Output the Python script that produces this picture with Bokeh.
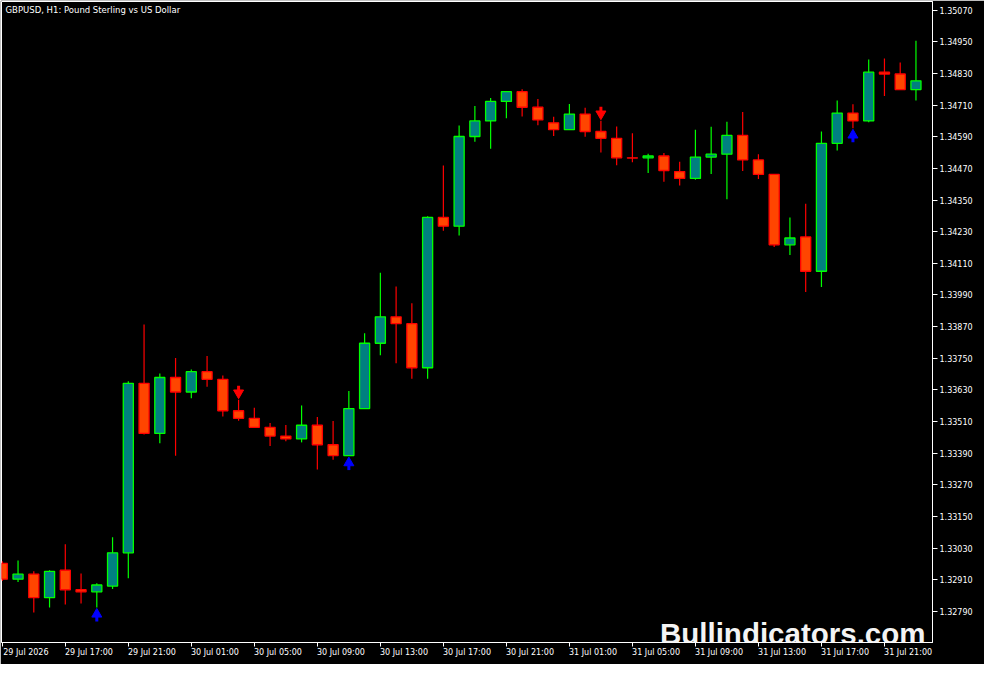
from bokeh.plotting import figure
from bokeh.models import Range1d, FixedTicker, PrintfTickFormatter, Label, ColumnDataSource, LinearAxis
from bokeh.embed import file_html
from bokeh.resources import INLINE

# ---------------- data ----------------
chart_title = "GBPUSD, H1:  Pound Sterling vs US Dollar"
watermark = "Bullindicators.com"

opens = [1.32972, 1.32912, 1.32931, 1.32842, 1.32946, 1.32872, 1.32864, 1.32886, 1.33012, 1.33655,
         1.33465, 1.33677, 1.33622, 1.33699, 1.33670, 1.33551, 1.33522, 1.33488, 1.33455, 1.33444,
         1.33496, 1.33422, 1.33381, 1.33559, 1.33807, 1.33907, 1.33881, 1.33714, 1.34284, 1.34251,
         1.34591, 1.34650, 1.34724, 1.34761, 1.34702, 1.34643, 1.34617, 1.34676, 1.34610, 1.34584,
         1.34510, 1.34510, 1.34517, 1.34458, 1.34432, 1.34513, 1.34524, 1.34595, 1.34502, 1.34447,
         1.34180, 1.34210, 1.34080, 1.34565, 1.34680, 1.34650, 1.34835, 1.34828, 1.34769]
highs = [1.32980, 1.32983, 1.32942, 1.32946, 1.33045, 1.32934, 1.32897, 1.33071, 1.33663, 1.33878,
         1.33692, 1.33751, 1.33707, 1.33759, 1.33685, 1.33593, 1.33562, 1.33504, 1.33497, 1.33571,
         1.33527, 1.33512, 1.33626, 1.33845, 1.34074, 1.34022, 1.33959, 1.34289, 1.34481, 1.34633,
         1.34707, 1.34737, 1.34761, 1.34770, 1.34733, 1.34666, 1.34714, 1.34700, 1.34651, 1.34629,
         1.34603, 1.34526, 1.34528, 1.34495, 1.34617, 1.34628, 1.34647, 1.34684, 1.34524, 1.34447,
         1.34284, 1.34336, 1.34610, 1.34728, 1.34713, 1.34883, 1.34887, 1.34872, 1.34954]
lows = [1.32905, 1.32901, 1.32786, 1.32805, 1.32816, 1.32820, 1.32805, 1.32875, 1.32916, 1.33461,
        1.33428, 1.33380, 1.33598, 1.33642, 1.33529, 1.33513, 1.33488, 1.33417, 1.33435, 1.33431,
        1.33328, 1.33365, 1.33379, 1.33559, 1.33761, 1.33731, 1.33672, 1.33672, 1.34234, 1.34216,
        1.34571, 1.34545, 1.34660, 1.34667, 1.34634, 1.34593, 1.34617, 1.34590, 1.34530, 1.34482,
        1.34493, 1.34453, 1.34419, 1.34405, 1.34427, 1.34449, 1.34353, 1.34460, 1.34430, 1.34172,
        1.34142, 1.34001, 1.34020, 1.34538, 1.34622, 1.34645, 1.34745, 1.34769, 1.34728]
closes = [1.32912, 1.32931, 1.32842, 1.32942, 1.32872, 1.32864, 1.32890, 1.33012, 1.33655, 1.33465,
          1.33677, 1.33622, 1.33699, 1.33670, 1.33551, 1.33522, 1.33488, 1.33455, 1.33444, 1.33496,
          1.33422, 1.33381, 1.33559, 1.33807, 1.33907, 1.33881, 1.33714, 1.34284, 1.34251, 1.34591,
          1.34650, 1.34724, 1.34761, 1.34702, 1.34654, 1.34617, 1.34676, 1.34610, 1.34584, 1.34510,
          1.34509, 1.34517, 1.34462, 1.34432, 1.34513, 1.34524, 1.34595, 1.34502, 1.34447, 1.34180,
          1.34206, 1.34080, 1.34565, 1.34680, 1.34650, 1.34835, 1.34828, 1.34769, 1.34802]

buy_signals = [6, 22, 54]
sell_signals = [15, 38]

time_labels = ["29 Jul 2026", "29 Jul 17:00", "29 Jul 21:00", "30 Jul 01:00", "30 Jul 05:00",
               "30 Jul 09:00", "30 Jul 13:00", "30 Jul 17:00", "30 Jul 21:00", "31 Jul 01:00",
               "31 Jul 05:00", "31 Jul 09:00", "31 Jul 13:00", "31 Jul 17:00", "31 Jul 21:00"]
label_every = 4

price_ticks = [1.32790, 1.32910, 1.33030, 1.33150, 1.33270, 1.33390, 1.33510, 1.33630, 1.33750,
               1.33870, 1.33990, 1.34110, 1.34230, 1.34350, 1.34470, 1.34590, 1.34710, 1.34830,
               1.34950, 1.35070]

# ---------------- layout / style ----------------
FRAME_W, FRAME_H = 931, 641
Y0, Y1 = 1.32672, 1.35103
X0, X1 = -0.05, 59.05
px = (Y1 - Y0) / FRAME_H          # price per screen pixel
LABEL_SHIFT = 1.5                 # bars: centre of a label sits right of its tick (left-aligned look)

BULL_FILL, BULL_LINE = "#008080", "#00FF00"
BEAR_FILL, BEAR_LINE = "#FF4500", "#FF0000"
FONT = "DejaVu Sans"

idx = list(range(len(opens)))
bull = [c >= o for o, c in zip(opens, closes)]

def pick(seq, flag):
    return [v for v, b in zip(seq, bull) if b == flag]

def make_src(flag):
    o, c = pick(opens, flag), pick(closes, flag)
    return ColumnDataSource(dict(
        x=pick(idx, flag), high=pick(highs, flag), low=pick(lows, flag),
        top=[max(a, b) for a, b in zip(o, c)], bottom=[min(a, b) for a, b in zip(o, c)]))

p = figure(frame_width=FRAME_W, frame_height=FRAME_H,
           min_border_left=1, min_border_top=1, min_border_right=52, min_border_bottom=22,
           x_range=Range1d(X0, X1), y_range=Range1d(Y0, Y1),
           y_axis_location="right", toolbar_location=None, output_backend="svg",
           background_fill_color="black", border_fill_color="black")
p.xgrid.visible = False
p.ygrid.visible = False
p.outline_line_color = "white"
p.outline_line_width = 1

for flag, fill, line in ((True, BULL_FILL, BULL_LINE), (False, BEAR_FILL, BEAR_LINE)):
    src = make_src(flag)
    p.segment(x0="x", y0="low", x1="x", y1="high", source=src, line_color=line, line_width=1.2)
    p.vbar(x="x", width=0.64, top="top", bottom="bottom", source=src,
           fill_color=fill, line_color=line, line_width=1.3)

# signal arrows
tri = 10
h = tri * 0.866
bx = buy_signals
blow = [lows[i] for i in bx]
p.segment(x0=bx, x1=bx, y0=[l - (1 + h) * px for l in blow], y1=[l - 14 * px for l in blow],
          line_color="#0000FF", line_width=3)
p.scatter(x=bx, y=[l - (1 + 2 * h / 3) * px for l in blow], marker="triangle", size=tri,
          fill_color="#0000FF", line_color="#0000FF")
sx = sell_signals
shigh = [highs[i] for i in sx]
p.segment(x0=sx, x1=sx, y0=[v + (1 + h) * px for v in shigh], y1=[v + 14 * px for v in shigh],
          line_color="#FF0000", line_width=3)
p.scatter(x=sx, y=[v + (1 + 2 * h / 3) * px for v in shigh], marker="inverted_triangle", size=tri,
          fill_color="#FF0000", line_color="#FF0000")

# price axis
ya = p.yaxis[0]
ya.ticker = FixedTicker(ticks=price_ticks)
ya.formatter = PrintfTickFormatter(format="%.5f")
ya.axis_line_color = "white"
ya.major_tick_line_color = "white"
ya.major_tick_out = 5
ya.major_tick_in = 0
ya.minor_tick_line_color = None
ya.major_label_standoff = 2
ya.major_label_text_color = "white"
ya.major_label_text_font = FONT
ya.major_label_text_font_size = "8px"

# time axis: tick marks only
tick_pos = [k * label_every for k in range(len(time_labels))]
xa = p.xaxis[0]
xa.ticker = FixedTicker(ticks=tick_pos)
xa.axis_line_color = "white"
xa.major_tick_line_color = "white"
xa.major_tick_out = 4
xa.major_tick_in = 0
xa.minor_tick_line_color = None
xa.major_label_text_color = None
xa.major_label_text_font_size = "1px"
xa.major_label_standoff = 0

# time axis: labels, shifted so that they start at their tick
lab_pos = [t + LABEL_SHIFT for t in tick_pos]
xl = LinearAxis(ticker=FixedTicker(ticks=lab_pos),
                major_label_overrides={pos: lab for pos, lab in zip(lab_pos, time_labels)},
                axis_line_color=None, major_tick_line_color=None, minor_tick_line_color=None,
                major_tick_out=0, major_tick_in=0, major_label_standoff=1,
                major_label_text_color="white", major_label_text_font=FONT,
                major_label_text_font_size="8px")
p.add_layout(xl, "below")

p.add_layout(Label(x=X0, y=Y1, text=chart_title, text_align="left", text_baseline="top",
                   x_offset=4, y_offset=-3, text_color="white", text_font=FONT,
                   text_font_size="8.5px"))
p.add_layout(Label(x=X1, y=Y0, text=watermark, text_align="right", text_baseline="alphabetic",
                   x_offset=-7, y_offset=9, text_color="#F4F4F4", text_font="Liberation Sans",
                   text_font_style="bold", text_font_size="29.5px"))

open("out.html", "w").write(file_html(p, INLINE))
